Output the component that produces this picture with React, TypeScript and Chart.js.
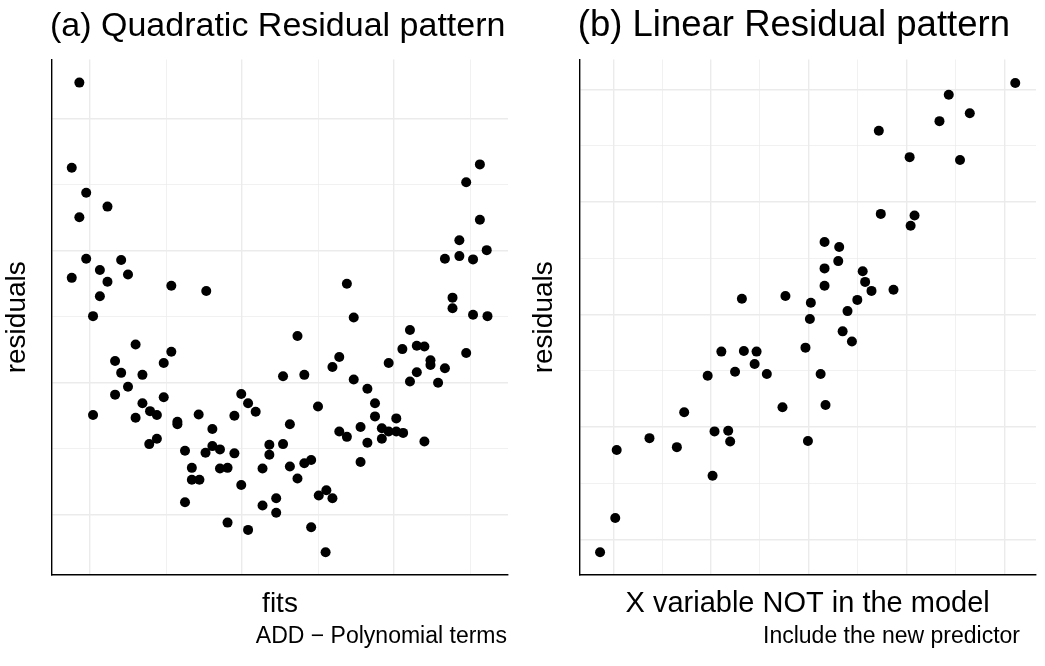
import React, { useEffect, useRef } from "react";
import { Chart, registerables } from "chart.js";

Chart.register(...registerables);

const FONT = "'Liberation Sans', Arial, Helvetica, sans-serif";

// ---------- Panel (a): quadratic residual pattern ----------
const quadFits = [
  -0.14, -0.24, -0.05, 0.23, -0.14, -0.05, 0.41, 0.13, -0.24, 0.5,
  0.23, 1.07, 1.53, 0.13, 0.04, 0.6, 1.07, 0.33, 0.97, 0.41,
  0.69, 2.54, 0.5, 0.33, 0.97, 1.99, 0.69, 2.08, 0.79, 0.88,
  0.04, 0.6, 2.18, 1.15, 1.15, 1.43, 1.9, 1.61, 0.88, 0.78,
  2.36, 2.54, 1.25, 1.61, 1.71, 1.52, 1.9, 2.36, 1.34, 1.71,
  1.81, 2.27, 1.34, 1.44, 1.99, 2.45, 1.25, 2.27, 2.45, 1.81,
  2.08, 3.47, 5.04, 5.23, 2.73, 4.21, 4.11, 4.3, 4.4, 4.95,
  3.28, 3.19, 3.93, 4.48, 4.48, 4.67, 4.3, 2.82, 3.47, 4.21,
  4.58, 3.65, 3.75, 3.0, 3.75, 4.03, 2.63, 3.56, 3.84, 3.93,
  4.03, 4.12, 3.28, 3.38, 3.84, 3.65, 4.4, 2.63, 2.82, 2.91,
  2.73, 3.56, 3.01, 3.11, 3.19, 2.91, 3.1, 5.13, 4.95, 5.13,
  4.86, 5.22, 4.67, 4.86, 5.04, 3.38, 4.77, 4.77,
];
const quadResiduals = [
  6.55, 5.26, 4.88, 4.67, 4.51, 3.88, 3.86, 3.71, 3.59, 3.64,
  3.53, 3.47, 3.39, 3.31, 3.01, 2.58, 2.47, 2.33, 2.3, 2.15,
  2.12, 2.1, 1.94, 1.82, 1.78, 1.83, 1.69, 1.69, 1.57, 1.51,
  1.51, 1.47, 1.56, 1.41, 1.37, 1.52, 1.5, 1.3, 1.15, 1.07,
  1.06, 1.07, 0.97, 1.04, 0.99, 0.94, 0.93, 0.91, 0.71, 0.7,
  0.71, 0.7, 0.53, 0.53, 0.45, 0.25, 0.19, 0.14, 0.03, -0.12,
  -0.23, 2.99, 3.03, 3.01, 2.71, 2.8, 2.51, 2.56, 2.55, 2.45,
  2.39, 2.24, 2.3, 2.34, 2.27, 2.22, 2.16, 2.12, 2.05, 2.02,
  2.0, 1.91, 1.69, 1.64, 1.49, 1.46, 1.37, 1.33, 1.31, 1.26,
  1.26, 1.24, 1.26, 1.18, 1.15, 1.09, 1.11, 0.73, 0.78, 0.83,
  0.55, 0.8, 0.29, 0.37, 0.25, -0.19, -0.57, 5.31, 5.04, 4.47,
  4.16, 4.01, 3.88, 3.92, 3.87, 3.5, 3.29, 3.13,
];
const quadGridX = [0, 1, 2, 3, 4, 5];
const quadGridY = [0, 1, 2, 3, 4, 5, 6];

// ---------- Panel (b): linear residual pattern ----------
const newPredictor = [
  2.63, 3.52, 4.04, 4.02, 4.32, 4.62, 4.6, 4.32, 4.32, 5.1,
  5.15, 5.28, 5.73, 4.99, 4.79, 5.47, 6.16, 6.08, 5.43, 6.06,
  7.09, 6.67, 6.86, 7.29, 8.22, 3.93, 4.69, 4.88, 4.24, 3.46,
  4.34, 3.98, 2.21, 2.67, 2.93, 2.89, 2.49, 3.14, 1.93, 1.45,
  0.74, 0.07, 1.3, 2.07, 2.35, 2.39, 2.03, 0.04, -0.27,
];
const linResiduals = [
  4.28, 4.33, 4.21, 3.92, 5.29, 5.2, 4.95, 4.82, 4.51, 4.77,
  4.58, 4.42, 4.44, 4.26, 4.06, 5.79, 5.76, 5.58, 7.27, 6.8,
  6.75, 7.44, 7.91, 7.58, 8.12, 3.41, 3.7, 3.52, 2.94, 2.35,
  2.39, 1.75, 3.34, 3.35, 3.34, 3.12, 2.98, 2.94, 2.91, 2.26,
  1.8, 1.59, 1.64, 1.92, 1.93, 1.74, 1.13, 0.38, -0.23,
];
const linGridX = [0, 1, 2, 3, 4, 5, 6, 7, 8];
const linGridY = [0, 1, 2, 3, 4, 5, 6, 7, 8];

const panelTextPlugin = {
  id: "panelText",
  afterDraw(chart: any, _args: any, opts: any) {
    const { ctx, chartArea: a } = chart;
    ctx.save();
    ctx.fillStyle = "#000";
    ctx.textBaseline = "alphabetic";
    // panel title
    ctx.font = `${opts.titleSize}px ${FONT}`;
    ctx.textAlign = "left";
    ctx.fillText(opts.title, a.left + opts.titleDx, a.top - 23.5);
    // x-axis title
    ctx.font = `${opts.axisSize}px ${FONT}`;
    ctx.textAlign = "center";
    ctx.fillText(opts.xTitle, (a.left + a.right) / 2, a.bottom + 36.5);
    // y-axis title
    ctx.font = `28px ${FONT}`;
    ctx.save();
    ctx.translate(a.left - 27, (a.top + a.bottom) / 2);
    ctx.rotate(-Math.PI / 2);
    ctx.fillText(opts.yTitle, 0, 0);
    ctx.restore();
    // caption
    ctx.font = `23px ${FONT}`;
    ctx.textAlign = "right";
    ctx.fillText(opts.caption, a.right + opts.captionDx, a.bottom + 68);
    ctx.restore();
  },
};

function makeScale(min: number, max: number, grid: number[]) {
  return {
    type: "linear",
    min,
    max,
    afterBuildTicks: (scale: any) => {
      scale.ticks = grid.map((v) => ({ value: v }));
    },
    ticks: { display: false },
    grid: {
      color: "#ebebeb",
      lineWidth: (c: any) => (c.tick && Math.abs(c.tick.value) % 2 === 0 ? 1.4 : 0.7),
      drawTicks: false,
    },
    border: { display: true, color: "#000", width: 1.4 },
  };
}

function makeConfig(
  xs: number[],
  ys: number[],
  xRange: [number, number],
  yRange: [number, number],
  gridX: number[],
  gridY: number[],
  padding: any,
  text: any
): any {
  return {
    type: "scatter",
    data: {
      datasets: [
        {
          data: xs.map((x, i) => ({ x, y: ys[i] })),
          backgroundColor: "#000",
          borderWidth: 0,
          pointRadius: 5,
          pointHoverRadius: 5,
        },
      ],
    },
    plugins: [panelTextPlugin],
    options: {
      responsive: false,
      animation: false,
      events: [],
      layout: { padding, autoPadding: false },
      scales: {
        x: makeScale(xRange[0], xRange[1], gridX),
        y: makeScale(yRange[0], yRange[1], gridY),
      },
      plugins: {
        legend: { display: false },
        tooltip: { enabled: false },
        title: { display: false },
        panelText: text,
      },
    },
  };
}

function Panel({ left, width, config }: { left: number; width: number; config: () => any }) {
  const ref = useRef<HTMLCanvasElement>(null);
  useEffect(() => {
    const chart = new Chart(ref.current as HTMLCanvasElement, config());
    return () => chart.destroy();
  }, []);
  return (
    <canvas
      ref={ref}
      width={width}
      height={666}
      style={{ position: "absolute", left, top: 0, width, height: 666 }}
    />
  );
}

export default function App() {
  return (
    <div style={{ position: "fixed", left: 0, top: 0, width: 1045, height: 666, background: "#fff" }}>
      <Panel
        left={0}
        width={522}
        config={() =>
          makeConfig(
            quadFits,
            quadResiduals,
            [-0.5, 5.5],
            [-0.914, 6.9],
            quadGridX,
            quadGridY,
            { left: 52, right: 14, top: 59.5, bottom: 91 },
            {
              title: "(a) Quadratic Residual pattern",
              xTitle: "fits",
              yTitle: "residuals",
              caption: "ADD − Polynomial terms",
              titleSize: 34,
              axisSize: 28,
              titleDx: -2,
              captionDx: -1,
            }
          )
        }
      />
      <Panel
        left={522}
        width={523}
        config={() =>
          makeConfig(
            newPredictor,
            linResiduals,
            [-0.695, 8.644],
            [-0.635, 8.537],
            linGridX,
            linGridY,
            { left: 57.3, right: 9, top: 59.5, bottom: 91 },
            {
              title: "(b) Linear Residual pattern",
              xTitle: "X variable NOT in the model",
              yTitle: "residuals",
              caption: "Include the new predictor",
              titleSize: 36.5,
              axisSize: 29,
              titleDx: -1.5,
              captionDx: -16,
            }
          )
        }
      />
    </div>
  );
}
